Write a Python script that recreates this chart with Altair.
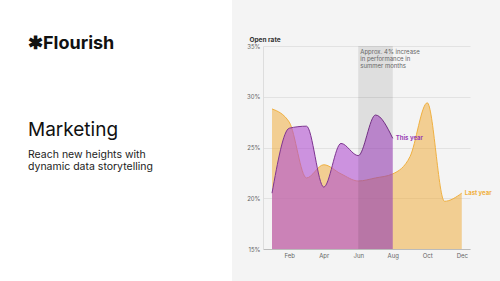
import altair as alt
import pandas as pd

months = list(range(1, 13))
month_names = ["Jan", "Feb", "Mar", "Apr", "May", "Jun", "Jul", "Aug", "Sep", "Oct", "Nov", "Dec"]
last_year = [28.8, 27.5, 22.0, 23.3, 22.4, 21.7, 22.0, 22.4, 24.1, 29.4, 19.7, 20.5]
this_year = [20.5, 26.9, 27.1, 21.1, 25.4, 24.2, 28.2, 25.9]
y_ticks = [15, 20, 25, 30, 35]
x_ticks = [2, 4, 6, 8, 10, 12]
band_start, band_end = 6, 8
annotation = ["Approx. 4% increase", "in performance in", "summer months"]

FONT = "Inter"
ORANGE = "#f0a830"
ORANGE_LINE = "#f0b040"
PURPLE = "#b050d0"
PURPLE_LINE = "#7d3590"

df_last = pd.DataFrame({"m": months, "v": last_year, "s": "Last year"})
df_this = pd.DataFrame({"m": months[:len(this_year)], "v": this_year, "s": "This year"})
df_band = pd.DataFrame({"a": [band_start], "b": [band_end]})
df_lab = pd.DataFrame({
    "m": [months[len(this_year) - 1], months[-1]],
    "v": [this_year[-1], last_year[-1]],
    "s": ["This year", "Last year"],
})

x_scale = alt.Scale(domain=[0.478, 12.478], nice=False, zero=False)
y_scale = alt.Scale(domain=[15, 35], nice=False, zero=False)

labels_expr = "[" + ",".join("'%s'" % n for n in month_names) + "][datum.value - 1]"

x_enc = alt.X("m:Q", scale=x_scale, axis=alt.Axis(
    values=x_ticks, labelExpr=labels_expr, title=None, grid=False, ticks=False,
    domainColor="#bbbbbb", labelColor="#666666", labelFontSize=6, labelPadding=3,
    labelFont=FONT))
y_enc = alt.Y("v:Q", scale=y_scale, axis=alt.Axis(
    values=y_ticks, labelExpr="datum.value + '%'", title="Open rate", titleAngle=0,
    titleAlign="left", titleX=-14, titleY=-4, titleBaseline="bottom",
    titleFontSize=6.5, titleFontWeight="bold", titleColor="#333333", titleFont=FONT,
    ticks=False, domainColor="#dddddd", gridColor="#e2e2e2", labelColor="#666666",
    labelFontSize=6, labelPadding=3, labelFont=FONT))

# left (white) panel; the chart background is the light grey of the right panel
panel = alt.Chart(pd.DataFrame({"k": [0]})).mark_rect(fill="#ffffff").encode(
    x=alt.value(-263), x2=alt.value(-31), y=alt.value(-46), y2=alt.value(235))

base_last = alt.Chart(df_last)
area_last = base_last.mark_area(interpolate="monotone", color=ORANGE, opacity=0.5).encode(
    x=x_enc, y=y_enc, y2=alt.Y2(datum=15))
line_last = base_last.mark_line(interpolate="monotone", color=ORANGE_LINE, strokeWidth=1).encode(x="m:Q", y="v:Q")

base_this = alt.Chart(df_this)
area_this = base_this.mark_area(interpolate="monotone", color=PURPLE, opacity=0.6).encode(
    x="m:Q", y="v:Q", y2=alt.Y2(datum=15))
line_this = base_this.mark_line(interpolate="monotone", color=PURPLE_LINE, strokeWidth=1).encode(x="m:Q", y="v:Q")

band = alt.Chart(df_band).mark_rect(color="#000000", opacity=0.09).encode(
    x="a:Q", x2="b:Q", y=alt.value(0), y2=alt.value(203))

band_text = alt.Chart(df_band).mark_text(
    align="left", baseline="top", fontSize=6, font=FONT, color="#666666",
    lineHeight=7, dx=2, text=annotation).encode(x="a:Q", y=alt.value(3))

end_labels = alt.Chart(df_lab).mark_text(
    align="left", baseline="middle", fontSize=6, fontWeight="bold", font=FONT, dx=3).encode(
    x="m:Q", y="v:Q", text="s:N",
    color=alt.Color("s:N", scale=alt.Scale(domain=["This year", "Last year"],
                                           range=["#9a3fb5", ORANGE_LINE]), legend=None))

# left panel text
logo = alt.Chart(pd.DataFrame({"k": [0]})).mark_text(
    text="✱Flourish", align="left", baseline="alphabetic", fontSize=18, fontWeight="bold",
    font=FONT, color="#111111").encode(x=alt.value(-235), y=alt.value(2.5))
title = alt.Chart(pd.DataFrame({"k": [0]})).mark_text(
    text="Marketing", align="left", baseline="alphabetic", fontSize=19, fontWeight=400,
    font=FONT, color="#111111").encode(x=alt.value(-235), y=alt.value(89.5))
sub = alt.Chart(pd.DataFrame({"k": [0]})).mark_text(
    text=["Reach new heights with", "dynamic data storytelling"], align="left",
    baseline="alphabetic", fontSize=10.5, lineHeight=12.5, font=FONT,
    color="#222222").encode(x=alt.value(-235), y=alt.value(111.5))

chart = alt.layer(
    panel, area_last, line_last, area_this, line_this, band, band_text, end_labels,
    logo, title, sub
).properties(
    width=207, height=203,
    padding={"left": 263, "top": 46, "right": 30, "bottom": 32},
    autosize=alt.AutoSizeParams(type="none"),
    background="#f4f4f4",
).configure_view(stroke=None)

chart.save("out.html", embed_options={"renderer": "svg", "actions": False})
